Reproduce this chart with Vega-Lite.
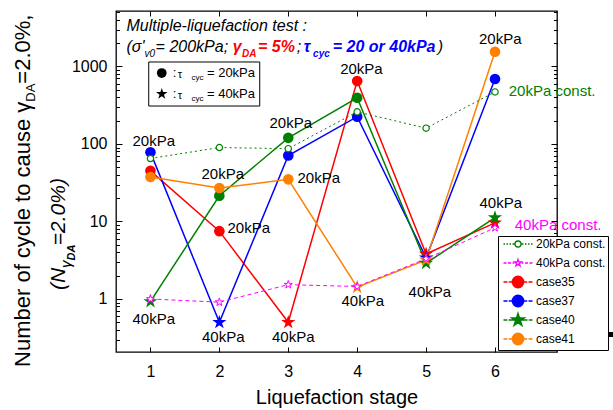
{
  "$schema": "https://vega.github.io/schema/vega-lite/v6.json",
  "width": 441,
  "height": 341,
  "autosize": {"type": "none"},
  "padding": {"left": 116, "top": 11, "right": 56, "bottom": 58},
  "background": "white",
  "config": {
    "view": {"stroke": "black", "strokeWidth": 1.3},
    "font": "Liberation Sans",
    "axis": {"grid": false, "domain": false, "tickColor": "black", "tickWidth": 1, "labelColor": "black", "labelFont": "Liberation Sans", "labelFontSize": 16, "titleFont": "Liberation Sans", "titleColor": "black", "titleFontWeight": "normal"},
    "legend": {"labelFont": "Liberation Sans", "labelColor": "black"}
  },
  "datasets": {
    "pts": [
      {"stage": 1, "N": 45, "series": "case35", "tau": "20"},
      {"stage": 2, "N": 7.5, "series": "case35", "tau": "20"},
      {"stage": 3, "N": 0.5, "series": "case35", "tau": "40"},
      {"stage": 4, "N": 650, "series": "case35", "tau": "20"},
      {"stage": 5, "N": 3.8, "series": "case35", "tau": "40"},
      {"stage": 6, "N": 9.6, "series": "case35", "tau": "40"},
      {"stage": 1, "N": 78, "series": "case37", "tau": "20"},
      {"stage": 2, "N": 0.5, "series": "case37", "tau": "40"},
      {"stage": 3, "N": 71, "series": "case37", "tau": "20"},
      {"stage": 4, "N": 225, "series": "case37", "tau": "20"},
      {"stage": 5, "N": 3.4, "series": "case37", "tau": "40"},
      {"stage": 6, "N": 690, "series": "case37", "tau": "20"},
      {"stage": 1, "N": 0.93, "series": "case40", "tau": "40"},
      {"stage": 2, "N": 21.5, "series": "case40", "tau": "20"},
      {"stage": 3, "N": 120, "series": "case40", "tau": "20"},
      {"stage": 4, "N": 395, "series": "case40", "tau": "20"},
      {"stage": 5, "N": 2.9, "series": "case40", "tau": "40"},
      {"stage": 6, "N": 11.2, "series": "case40", "tau": "40"},
      {"stage": 1, "N": 37.5, "series": "case41", "tau": "20"},
      {"stage": 2, "N": 27, "series": "case41", "tau": "20"},
      {"stage": 3, "N": 35, "series": "case41", "tau": "20"},
      {"stage": 4, "N": 1.42, "series": "case41", "tau": "40"},
      {"stage": 5, "N": 3.2, "series": "case41", "tau": "40"},
      {"stage": 6, "N": 1550, "series": "case41", "tau": "20"},
      {"stage": 1, "N": 65, "series": "20kPa const.", "tau": "20"},
      {"stage": 2, "N": 90, "series": "20kPa const.", "tau": "20"},
      {"stage": 3, "N": 87, "series": "20kPa const.", "tau": "20"},
      {"stage": 4, "N": 260, "series": "20kPa const.", "tau": "20"},
      {"stage": 5, "N": 160, "series": "20kPa const.", "tau": "20"},
      {"stage": 6, "N": 470, "series": "20kPa const.", "tau": "20"},
      {"stage": 1, "N": 1.0, "series": "40kPa const.", "tau": "40"},
      {"stage": 2, "N": 0.91, "series": "40kPa const.", "tau": "40"},
      {"stage": 3, "N": 1.53, "series": "40kPa const.", "tau": "40"},
      {"stage": 4, "N": 1.45, "series": "40kPa const.", "tau": "40"},
      {"stage": 5, "N": 3.3, "series": "40kPa const.", "tau": "40"},
      {"stage": 6, "N": 8.3, "series": "40kPa const.", "tau": "40"}
    ],
    "labels": [
      {"stage": 1.048, "N": 109, "t": "20kPa"},
      {"stage": 2.049, "N": 41, "t": "20kPa"},
      {"stage": 2.427, "N": 8.17, "t": "20kPa"},
      {"stage": 3.036, "N": 188, "t": "20kPa"},
      {"stage": 3.443, "N": 36.7, "t": "20kPa"},
      {"stage": 4.062, "N": 929, "t": "20kPa"},
      {"stage": 6.077, "N": 2264, "t": "20kPa"},
      {"stage": 1.048, "N": 0.552, "t": "40kPa"},
      {"stage": 2.057, "N": 0.321, "t": "40kPa"},
      {"stage": 3.073, "N": 0.321, "t": "40kPa"},
      {"stage": 4.081, "N": 0.934, "t": "40kPa"},
      {"stage": 5.054, "N": 1.23, "t": "40kPa"},
      {"stage": 6.084, "N": 17.5, "t": "40kPa"}
    ]
  },
  "encoding": {
    "x": {"field": "stage", "type": "quantitative", "scale": {"domain": [0.5, 6.9], "nice": false, "zero": false}, "axis": null},
    "y": {"field": "N", "type": "quantitative", "scale": {"type": "log", "domain": [0.207, 5200], "nice": false}, "axis": null}
  },
  "resolve": {"axis": {"x": "independent", "y": "independent"}},
  "layer": [
    {
      "data": {"name": "pts"},
      "transform": [{"filter": {"field": "series", "oneOf": ["case35", "case37", "case40", "case41"]}}],
      "mark": {"type": "line", "strokeWidth": 1.5},
      "encoding": {
        "x": {"field": "stage", "type": "quantitative", "scale": {"domain": [0.5, 6.9], "nice": false, "zero": false},
          "axis": {"orient": "bottom", "values": [1, 2, 3, 4, 5, 6], "format": "d", "tickSize": -5, "labelPadding": 16, "labelOverlap": false, "title": "Liquefaction stage", "titleFontSize": 20, "titlePadding": 8}},
        "y": {"field": "N", "type": "quantitative", "scale": {"type": "log", "domain": [0.207, 5200], "nice": false},
          "axis": {"orient": "left", "values": [1, 10, 100, 1000], "format": "d", "tickSize": -6, "labelPadding": 15, "labelOverlap": false, "title": null}},
        "color": {"field": "series", "type": "nominal",
          "scale": {"domain": ["case35", "case37", "case40", "case41"], "range": ["#FF0000", "#0000FF", "#008000", "#FF8000"]},
          "legend": null},
        "order": {"field": "stage", "type": "quantitative"}
      }
    },
    {
      "data": {"name": "pts"},
      "transform": [{"filter": {"field": "series", "oneOf": ["case35", "case37", "case40", "case41"]}}, {"filter": {"field": "tau", "equal": "20"}}],
      "mark": {"type": "point", "shape": "circle", "filled": true, "size": 113, "opacity": 1, "strokeWidth": 0},
      "encoding": {
        "x": {"field": "stage", "type": "quantitative", "scale": {"domain": [0.5, 6.9], "nice": false, "zero": false},
          "axis": {"orient": "top", "values": [1, 2, 3, 4, 5, 6], "tickSize": -5, "labels": false, "title": null}},
        "y": {"field": "N", "type": "quantitative", "scale": {"type": "log", "domain": [0.207, 5200], "nice": false},
          "axis": {"orient": "right", "values": [1, 10, 100, 1000], "tickSize": -6, "labels": false, "title": null}},
        "color": {"field": "series", "type": "nominal", "legend": null}
      }
    },
    {
      "data": {"name": "pts"},
      "transform": [{"filter": {"field": "series", "oneOf": ["case35", "case37", "case40", "case41"]}}, {"filter": {"field": "tau", "equal": "40"}}],
      "mark": {"type": "point", "shape": "M0,-1.4L0.315,-0.433L1.332,-0.433L0.509,0.165L0.823,1.133L0,0.535L-0.823,1.133L-0.509,0.165L-1.332,-0.433L-0.315,-0.433Z", "filled": true, "size": 113, "opacity": 1, "strokeWidth": 0},
      "encoding": {
        "color": {"field": "series", "type": "nominal", "legend": null}
      }
    },
    {
      "data": {"name": "pts"},
      "transform": [{"filter": {"field": "series", "equal": "20kPa const."}}],
      "mark": {"type": "line", "color": "#008000", "strokeWidth": 1, "strokeDash": [2, 3]},
      "encoding": {
        "y": {"field": "N", "type": "quantitative", "scale": {"type": "log", "domain": [0.207, 5200], "nice": false},
          "axis": {"orient": "left", "values": [0.3, 0.4, 0.5, 0.6, 0.7, 0.8, 0.9, 2, 3, 4, 5, 6, 7, 8, 9, 20, 30, 40, 50, 60, 70, 80, 90, 200, 300, 400, 500, 600, 700, 800, 900, 2000, 3000, 4000, 5000], "tickSize": -3.5, "labels": false, "title": null}},
        "order": {"field": "stage", "type": "quantitative"}
      }
    },
    {
      "data": {"name": "pts"},
      "transform": [{"filter": {"field": "series", "equal": "40kPa const."}}],
      "mark": {"type": "line", "color": "#FF00FF", "strokeWidth": 1, "strokeDash": [4, 3]},
      "encoding": {
        "y": {"field": "N", "type": "quantitative", "scale": {"type": "log", "domain": [0.207, 5200], "nice": false},
          "axis": {"orient": "right", "values": [0.3, 0.4, 0.5, 0.6, 0.7, 0.8, 0.9, 2, 3, 4, 5, 6, 7, 8, 9, 20, 30, 40, 50, 60, 70, 80, 90, 200, 300, 400, 500, 600, 700, 800, 900, 2000, 3000, 4000, 5000], "tickSize": -3.5, "labels": false, "title": null}},
        "order": {"field": "stage", "type": "quantitative"}
      }
    },
    {
      "data": {"name": "pts"},
      "transform": [{"filter": {"field": "series", "equal": "20kPa const."}}],
      "mark": {"type": "point", "shape": "circle", "size": 40, "filled": false, "fill": "white", "stroke": "#008000", "strokeWidth": 1.2, "opacity": 1}
    },
    {
      "data": {"name": "pts"},
      "transform": [{"filter": {"field": "series", "equal": "40kPa const."}}],
      "mark": {"type": "point", "shape": "M0,-1.4L0.315,-0.433L1.332,-0.433L0.509,0.165L0.823,1.133L0,0.535L-0.823,1.133L-0.509,0.165L-1.332,-0.433L-0.315,-0.433Z", "size": 36, "filled": false, "fill": "white", "stroke": "#FF00FF", "strokeWidth": 1, "opacity": 1}
    },
    {
      "data": {"values": [{"stage": 6.113, "stage2": 7.72, "N": 0.3752, "N2": 0.3235}]},
      "mark": {"type": "rect", "color": "black"},
      "encoding": {"x2": {"field": "stage2"}, "y2": {"field": "N2"}}
    },
    {
      "data": {"values": []},
      "mark": {"type": "point", "filled": false, "opacity": 1},
      "encoding": {
        "stroke": {"field": "series", "type": "nominal",
          "scale": {"domain": ["20kPa const.", "40kPa const.", "case35", "case37", "case40", "case41"], "range": ["#008000", "#FF00FF", "#FF0000", "#0000FF", "#008000", "#FF8000"]},
          "legend": {"orient": "none", "legendX": 382, "legendY": 225, "title": null, "padding": 2, "strokeColor": "black", "fillColor": "white", "symbolOffset": 12, "labelOffset": 12, "labelFontSize": 12, "rowPadding": 0, "gridAlign": "all", "symbolSize": 100, "symbolStrokeWidth": 1.3, "symbolOpacity": 1}},
        "shape": {"field": "series", "type": "nominal",
          "scale": {"domain": ["20kPa const.", "40kPa const.", "case35", "case37", "case40", "case41"], "range": [
            "M-2.9,0L-2.6,0M-2.3,0L-2,0M-1.7,0L-1.4,0M-1.1,0L-0.65,0M0.65,0L1.1,0M1.4,0L1.7,0M2,0L2.3,0M2.6,0L2.9,0M-0.6,0A0.6,0.6 0 1,0 0.6,0A0.6,0.6 0 1,0 -0.6,0Z",
            "M-2.9,0L-2.3,0M-2,0L-1.4,0M-1.1,0L-0.75,0M0.75,0L1.1,0M1.4,0L2,0M2.3,0L2.9,0M0,-0.72L0.162,-0.223L0.685,-0.223L0.262,0.085L0.424,0.583L0,0.275L-0.424,0.583L-0.262,0.085L-0.685,-0.223L-0.162,-0.223Z",
            "M-2.9,0L-2.1,0M-1.85,0L-1.15,0M1.15,0L1.85,0M2.1,0L2.9,0M-1.15,0A1.15,1.15 0 1,0 1.15,0A1.15,1.15 0 1,0 -1.15,0ZM-0.95,0A0.95,0.95 0 1,0 0.95,0A0.95,0.95 0 1,0 -0.95,0ZM-0.75,0A0.75,0.75 0 1,0 0.75,0A0.75,0.75 0 1,0 -0.75,0ZM-0.55,0A0.55,0.55 0 1,0 0.55,0A0.55,0.55 0 1,0 -0.55,0ZM-0.35,0A0.35,0.35 0 1,0 0.35,0A0.35,0.35 0 1,0 -0.35,0ZM-0.15,0A0.15,0.15 0 1,0 0.15,0A0.15,0.15 0 1,0 -0.15,0Z",
            "M-2.9,0L-2.1,0M-1.85,0L-1.15,0M1.15,0L1.85,0M2.1,0L2.9,0M-1.15,0A1.15,1.15 0 1,0 1.15,0A1.15,1.15 0 1,0 -1.15,0ZM-0.95,0A0.95,0.95 0 1,0 0.95,0A0.95,0.95 0 1,0 -0.95,0ZM-0.75,0A0.75,0.75 0 1,0 0.75,0A0.75,0.75 0 1,0 -0.75,0ZM-0.55,0A0.55,0.55 0 1,0 0.55,0A0.55,0.55 0 1,0 -0.55,0ZM-0.35,0A0.35,0.35 0 1,0 0.35,0A0.35,0.35 0 1,0 -0.35,0ZM-0.15,0A0.15,0.15 0 1,0 0.15,0A0.15,0.15 0 1,0 -0.15,0Z",
            "M-2.9,0L-2.15,0M-1.9,0L-0.7,0M0.7,0L1.9,0M2.15,0L2.9,0M0,-1.37L0.308,-0.423L1.303,-0.423L0.498,0.162L0.805,1.108L0,0.523L-0.805,1.108L-0.498,0.162L-1.303,-0.423L-0.308,-0.423ZM0,-1.165L0.261,-0.36L1.108,-0.36L0.423,0.137L0.684,0.942L0,0.445L-0.684,0.942L-0.423,0.137L-1.108,-0.36L-0.261,-0.36ZM0,-0.959L0.215,-0.296L0.912,-0.296L0.348,0.113L0.564,0.776L0,0.366L-0.564,0.776L-0.348,0.113L-0.912,-0.296L-0.215,-0.296ZM0,-0.754L0.169,-0.233L0.717,-0.233L0.274,0.089L0.443,0.61L0,0.288L-0.443,0.61L-0.274,0.089L-0.717,-0.233L-0.169,-0.233ZM0,-0.548L0.123,-0.169L0.521,-0.169L0.199,0.065L0.322,0.443L0,0.209L-0.322,0.443L-0.199,0.065L-0.521,-0.169L-0.123,-0.169ZM0,-0.343L0.077,-0.106L0.326,-0.106L0.124,0.04L0.201,0.277L0,0.131L-0.201,0.277L-0.124,0.04L-0.326,-0.106L-0.077,-0.106ZM0,-0.137L0.031,-0.042L0.13,-0.042L0.05,0.016L0.081,0.111L0,0.052L-0.081,0.111L-0.05,0.016L-0.13,-0.042L-0.031,-0.042Z",
            "M-2.9,0L-2.1,0M-1.85,0L-1.15,0M1.15,0L1.85,0M2.1,0L2.9,0M-1.15,0A1.15,1.15 0 1,0 1.15,0A1.15,1.15 0 1,0 -1.15,0ZM-0.95,0A0.95,0.95 0 1,0 0.95,0A0.95,0.95 0 1,0 -0.95,0ZM-0.75,0A0.75,0.75 0 1,0 0.75,0A0.75,0.75 0 1,0 -0.75,0ZM-0.55,0A0.55,0.55 0 1,0 0.55,0A0.55,0.55 0 1,0 -0.55,0ZM-0.35,0A0.35,0.35 0 1,0 0.35,0A0.35,0.35 0 1,0 -0.35,0ZM-0.15,0A0.15,0.15 0 1,0 0.15,0A0.15,0.15 0 1,0 -0.15,0Z"]},
          "legend": {"orient": "none", "legendX": 382, "legendY": 225, "title": null, "padding": 2, "strokeColor": "black", "fillColor": "white", "symbolOffset": 12, "labelOffset": 12, "labelFontSize": 12, "rowPadding": 0, "gridAlign": "all", "symbolSize": 100, "symbolStrokeWidth": 1.3, "symbolOpacity": 1}}
      }
    },
    {
      "data": {"values": [{"stage": 0.975, "stage2": 2.586, "N": 1143, "N2": 309}]},
      "mark": {"type": "rect", "fill": "white", "stroke": "black", "strokeWidth": 1},
      "encoding": {"x2": {"field": "stage2"}, "y2": {"field": "N2"}}
    },
    {
      "data": {"values": [{"stage": 1.164, "N": 824}]},
      "mark": {"type": "point", "shape": "circle", "filled": true, "color": "black", "size": 95, "opacity": 1, "strokeWidth": 0}
    },
    {
      "data": {"values": [{"stage": 1.164, "N": 442}]},
      "mark": {"type": "point", "shape": "M0,-1.4L0.315,-0.433L1.332,-0.433L0.509,0.165L0.823,1.133L0,0.535L-0.823,1.133L-0.509,0.165L-1.332,-0.433L-0.315,-0.433Z", "filled": true, "color": "black", "size": 74, "opacity": 1, "strokeWidth": 0}
    },
    {
      "data": {"values": [{"stage": 1.324, "N": 824, "t": ":"}, {"stage": 1.82, "N": 824, "t": "= 20kPa"}, {"stage": 1.324, "N": 442, "t": ":"}, {"stage": 1.82, "N": 442, "t": "= 40kPa"}]},
      "mark": {"type": "text", "font": "Liberation Sans", "fontSize": 13, "color": "black", "align": "left", "baseline": "middle"},
      "encoding": {"text": {"field": "t", "type": "nominal"}}
    },
    {
      "data": {"values": [{"stage": 1.396, "N": 777, "t": "τ"}, {"stage": 1.396, "N": 416, "t": "τ"}]},
      "mark": {"type": "text", "font": "Liberation Sans", "fontSize": 11, "color": "black", "align": "left", "baseline": "middle"},
      "encoding": {"text": {"field": "t", "type": "nominal"}}
    },
    {
      "data": {"values": [{"stage": 1.595, "N": 704, "t": "cyc"}, {"stage": 1.595, "N": 377, "t": "cyc"}]},
      "mark": {"type": "text", "font": "Liberation Sans", "fontSize": 8, "color": "black", "align": "left", "baseline": "middle"},
      "encoding": {"text": {"field": "t", "type": "nominal"}}
    },
    {
      "data": {"name": "labels"},
      "mark": {"type": "text", "font": "Liberation Sans", "fontSize": 15, "color": "black", "align": "center", "baseline": "middle"},
      "encoding": {"text": {"field": "t", "type": "nominal"}}
    },
    {
      "data": {"values": [{"stage": 6.2, "N": 483, "t": "20kPa const."}]},
      "mark": {"type": "text", "font": "Liberation Sans", "fontSize": 15, "color": "#008000", "align": "left", "baseline": "middle"},
      "encoding": {"text": {"field": "t", "type": "nominal"}}
    },
    {
      "data": {"values": [{"stage": 6.287, "N": 9.01, "t": "40kPa const."}]},
      "mark": {"type": "text", "font": "Liberation Sans", "fontSize": 15, "color": "#FF00FF", "align": "left", "baseline": "middle"},
      "encoding": {"text": {"field": "t", "type": "nominal"}}
    },
    {
      "data": {"values": [
        {"stage": 0.652, "N": 3360, "t": "Multiple-liquefaction test :"},
        {"stage": 0.652, "N": 1801, "t": "(σ'"},
        {"stage": 1.075, "N": 1801, "t": "= 200kPa;"},
        {"stage": 3.123, "N": 1801, "t": ";"},
        {"stage": 5.17, "N": 1801, "t": ")"}
      ]},
      "mark": {"type": "text", "font": "Liberation Sans", "fontSize": 16, "fontStyle": "italic", "color": "black", "align": "left", "baseline": "middle"},
      "encoding": {"text": {"field": "t", "type": "nominal"}}
    },
    {
      "data": {"values": [{"stage": 0.915, "N": 1449, "t": "v0"}]},
      "mark": {"type": "text", "font": "Liberation Sans", "fontSize": 10, "fontStyle": "italic", "color": "black", "align": "left", "baseline": "middle"},
      "encoding": {"text": {"field": "t", "type": "nominal"}}
    },
    {
      "data": {"values": [{"stage": 2.195, "N": 1801, "t": "γ"}, {"stage": 2.56, "N": 1801, "t": "= 5%"}]},
      "mark": {"type": "text", "font": "Liberation Sans", "fontSize": 16, "fontStyle": "italic", "fontWeight": "bold", "color": "#FF0000", "align": "left", "baseline": "middle"},
      "encoding": {"text": {"field": "t", "type": "nominal"}}
    },
    {
      "data": {"values": [{"stage": 2.33, "N": 1449, "t": "DA"}]},
      "mark": {"type": "text", "font": "Liberation Sans", "fontSize": 10, "fontStyle": "italic", "fontWeight": "bold", "color": "#FF0000", "align": "left", "baseline": "middle"},
      "encoding": {"text": {"field": "t", "type": "nominal"}}
    },
    {
      "data": {"values": [{"stage": 3.225, "N": 1801, "t": "τ"}, {"stage": 3.646, "N": 1801, "t": "= 20 or 40kPa"}]},
      "mark": {"type": "text", "font": "Liberation Sans", "fontSize": 16, "fontStyle": "italic", "fontWeight": "bold", "color": "#0000FF", "align": "left", "baseline": "middle"},
      "encoding": {"text": {"field": "t", "type": "nominal"}}
    },
    {
      "data": {"values": [{"stage": 3.36, "N": 1449, "t": "cyc"}]},
      "mark": {"type": "text", "font": "Liberation Sans", "fontSize": 10, "fontStyle": "italic", "fontWeight": "bold", "color": "#0000FF", "align": "left", "baseline": "middle"},
      "encoding": {"text": {"field": "t", "type": "nominal"}}
    },
    {
      "data": {"values": [{"stage": -0.853, "N": 0.1327, "t": "Number of cycle to cause γ"}, {"stage": -0.853, "N": 600, "t": "=2.0%,"}]},
      "mark": {"type": "text", "font": "Liberation Sans", "fontSize": 22, "color": "black", "align": "left", "baseline": "middle", "angle": 270},
      "encoding": {"text": {"field": "t", "type": "nominal"}}
    },
    {
      "data": {"values": [{"stage": -0.737, "N": 351.6, "t": "DA"}]},
      "mark": {"type": "text", "font": "Liberation Sans", "fontSize": 13, "color": "black", "align": "left", "baseline": "middle", "angle": 270},
      "encoding": {"text": {"field": "t", "type": "nominal"}}
    },
    {
      "data": {"values": [{"stage": -0.331, "N": 1.307, "t": "(N"}, {"stage": -0.331, "N": 4.95, "t": "=2.0%)"}]},
      "mark": {"type": "text", "font": "Liberation Sans", "fontSize": 21, "fontStyle": "italic", "color": "black", "align": "left", "baseline": "middle", "angle": 270},
      "encoding": {"text": {"field": "t", "type": "nominal"}}
    },
    {
      "data": {"values": [{"stage": -0.229, "N": 2.512, "t": "γ"}]},
      "mark": {"type": "text", "font": "Liberation Sans", "fontSize": 15, "fontStyle": "italic", "color": "black", "align": "left", "baseline": "middle", "angle": 270},
      "encoding": {"text": {"field": "t", "type": "nominal"}}
    },
    {
      "data": {"values": [{"stage": -0.142, "N": 3.138, "t": "DA"}]},
      "mark": {"type": "text", "font": "Liberation Sans", "fontSize": 11, "fontStyle": "italic", "fontWeight": "bold", "color": "black", "align": "left", "baseline": "middle", "angle": 270},
      "encoding": {"text": {"field": "t", "type": "nominal"}}
    }
  ]
}
